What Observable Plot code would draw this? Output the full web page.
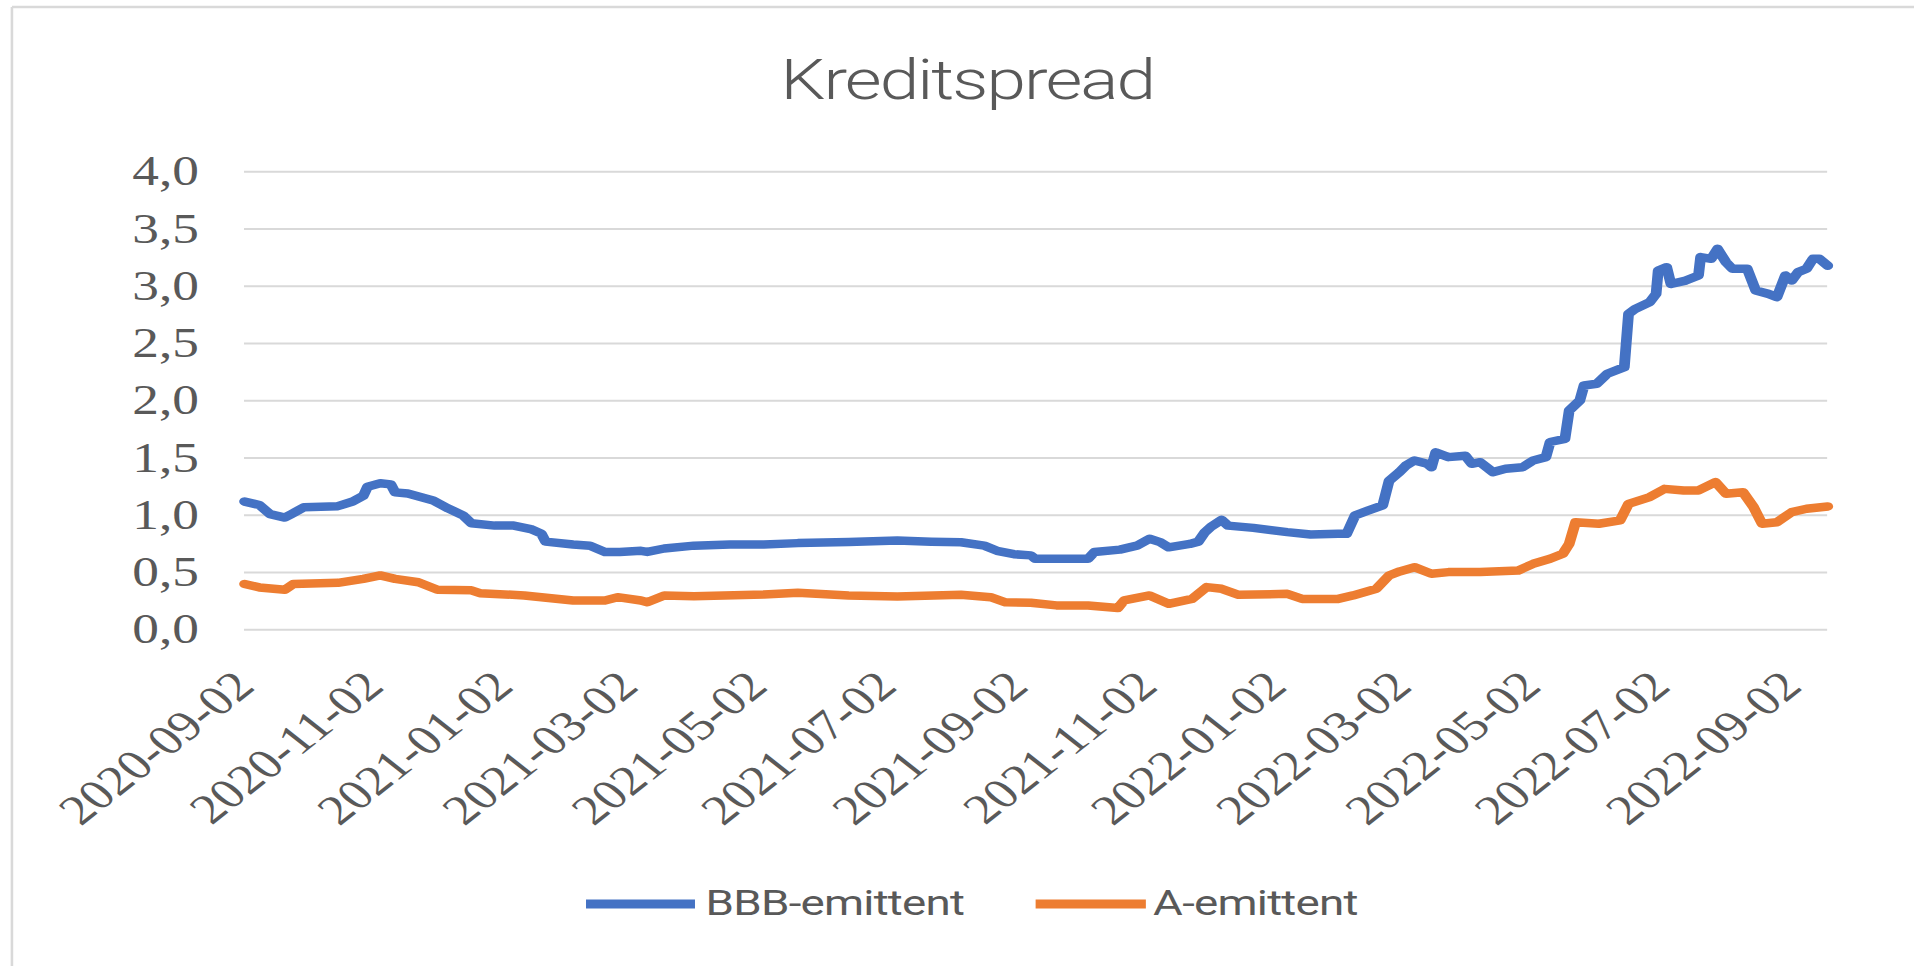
<!DOCTYPE html>
<html>
<head>
<meta charset="utf-8">
<script src="https://cdn.jsdelivr.net/npm/d3@7"></script>
<script src="https://cdn.jsdelivr.net/npm/@observablehq/plot@0.6"></script>
<style>
  html, body { margin: 0; padding: 0; background: #ffffff; overflow: hidden; }
  #stage { position: absolute; left: 0; top: 0; width: 1507px; height: 966px; transform-origin: 0 0; }
  #stage > svg { position: absolute; left: 0; top: 0; }
</style>
</head>
<body>
<div id="stage"></div>
<script>
// ---- data ----
const chartTitle = "Kreditspread";
const seriesNames = ["BBB-emittent", "A-emittent"];
const seriesColors = ["#4472C4", "#ED7D31"];

const bbbDates = [
  "2020-09-02","2020-09-09","2020-09-14","2020-09-21","2020-09-24","2020-09-30","2020-10-16","2020-10-23",
  "2020-10-28","2020-10-30","2020-11-05","2020-11-10","2020-11-12","2020-11-18","2020-11-24","2020-11-30",
  "2020-12-07","2020-12-14","2020-12-18","2020-12-29","2021-01-07","2021-01-15","2021-01-20","2021-01-22",
  "2021-02-04","2021-02-12","2021-02-19","2021-02-26","2021-03-08","2021-03-11","2021-03-19","2021-04-02",
  "2021-04-19","2021-05-05","2021-05-21","2021-06-14","2021-07-07","2021-07-23","2021-08-06","2021-08-17",
  "2021-08-23","2021-08-31","2021-09-08","2021-09-10","2021-09-20","2021-10-05","2021-10-08","2021-10-20",
  "2021-10-28","2021-11-03","2021-11-08","2021-11-12","2021-11-22","2021-11-26","2021-11-29","2021-12-02",
  "2021-12-07","2021-12-10","2021-12-22","2022-01-07","2022-01-18","2022-01-31","2022-02-04","2022-02-08",
  "2022-02-14","2022-02-21","2022-02-24","2022-03-01","2022-03-04","2022-03-08","2022-03-14","2022-03-16",
  "2022-03-18","2022-03-24","2022-04-01","2022-04-04","2022-04-08","2022-04-14","2022-04-20","2022-04-28",
  "2022-05-03","2022-05-09","2022-05-11","2022-05-18","2022-05-20","2022-05-25","2022-05-27","2022-06-02",
  "2022-06-07","2022-06-15","2022-06-17","2022-06-20","2022-06-27","2022-06-30","2022-07-01","2022-07-05",
  "2022-07-07","2022-07-14","2022-07-20","2022-07-21","2022-07-26","2022-07-29","2022-08-02","2022-08-05",
  "2022-08-12","2022-08-16","2022-08-22","2022-08-26","2022-08-30","2022-09-02","2022-09-05","2022-09-09",
  "2022-09-12","2022-09-15","2022-09-19"
];
const bbbValues = [
  1.12,1.09,1.01,0.98,1.01,1.07,1.08,1.12,
  1.17,1.25,1.28,1.27,1.20,1.19,1.16,1.13,
  1.06,1.00,0.93,0.91,0.91,0.88,0.84,0.77,
  0.745,0.735,0.68,0.68,0.69,0.68,0.71,0.735,
  0.745,0.745,0.757,0.766,0.78,0.77,0.765,0.735,
  0.69,0.66,0.65,0.62,0.62,0.62,0.68,0.70,
  0.735,0.795,0.766,0.72,0.75,0.77,0.85,0.90,
  0.96,0.91,0.89,0.853,0.833,0.838,0.838,1.00,
  1.04,1.086,1.30,1.38,1.435,1.479,1.45,1.42,
  1.55,1.508,1.52,1.45,1.464,1.377,1.406,1.42,
  1.479,1.508,1.64,1.668,1.915,2.003,2.134,2.149,
  2.236,2.294,2.76,2.80,2.862,2.934,3.138,3.167,
  3.02,3.05,3.095,3.255,3.24,3.327,3.21,3.153,
  3.153,2.964,2.934,2.905,3.095,3.05,3.124,3.153,
  3.24,3.24,3.18
];

const aDates = [
  "2020-09-02","2020-09-09","2020-09-21","2020-09-25","2020-10-16","2020-10-28","2020-11-05","2020-11-12",
  "2020-11-23","2020-12-02","2020-12-18","2020-12-22","2021-01-12","2021-02-04","2021-02-19","2021-02-25",
  "2021-03-08","2021-03-11","2021-03-19","2021-04-02","2021-05-05","2021-05-21","2021-06-14","2021-07-07",
  "2021-08-06","2021-08-20","2021-08-27","2021-09-08","2021-09-20","2021-10-05","2021-10-19","2021-10-22",
  "2021-11-03","2021-11-12","2021-11-23","2021-11-30","2021-12-07","2021-12-15","2022-01-07","2022-01-14",
  "2022-01-31","2022-02-07","2022-02-18","2022-02-24","2022-03-01","2022-03-08","2022-03-16","2022-03-24",
  "2022-04-08","2022-04-26","2022-05-03","2022-05-11","2022-05-17","2022-05-20","2022-05-23","2022-06-03",
  "2022-06-13","2022-06-17","2022-06-27","2022-07-04","2022-07-13","2022-07-20","2022-07-28","2022-08-02",
  "2022-08-10","2022-08-15","2022-08-19","2022-08-26","2022-09-02","2022-09-09","2022-09-19"
];
const aValues = [
  0.40,0.37,0.35,0.40,0.41,0.445,0.475,0.445,
  0.415,0.35,0.345,0.32,0.30,0.256,0.256,0.285,
  0.256,0.24,0.30,0.294,0.308,0.323,0.30,0.29,
  0.306,0.285,0.24,0.236,0.213,0.213,0.19,0.256,
  0.30,0.227,0.27,0.373,0.358,0.306,0.314,0.27,
  0.27,0.30,0.358,0.474,0.51,0.547,0.489,0.504,
  0.504,0.518,0.576,0.62,0.664,0.751,0.94,0.926,
  0.955,1.10,1.159,1.231,1.217,1.217,1.29,1.188,
  1.202,1.071,0.926,0.94,1.028,1.057,1.077
];

const xTickLabels = [
  "2020-09-02","2020-11-02","2021-01-02","2021-03-02","2021-05-02","2021-07-02","2021-09-02",
  "2021-11-02","2022-01-02","2022-03-02","2022-05-02","2022-07-02","2022-09-02"
];
const yTicks = [0, 0.5, 1, 1.5, 2, 2.5, 3, 3.5, 4];
const xDomain = ["2020-09-02", "2022-09-19"];
const yDomain = [0, 4];

// ---- build ----
const parse = d3.utcParse("%Y-%m-%d");
const fmtDate = d3.utcFormat("%Y-%m-%d");
const bbb = bbbDates.map((d, i) => ({date: parse(d), value: bbbValues[i]}));
const aa = aDates.map((d, i) => ({date: parse(d), value: aValues[i]}));

const W = 1507, H = 966, SX = 1914 / W;
const stage = document.getElementById("stage");
stage.style.transform = `scaleX(${SX})`;

const chart = Plot.plot({
  width: W,
  height: H,
  marginLeft: 192.1,
  marginRight: 68.4,
  marginTop: 171.3,
  marginBottom: 336.7,
  style: {fontFamily: "'Liberation Serif', 'DejaVu Serif', serif", fontSize: "42px", color: "#595959", background: "transparent", overflow: "visible"},
  x: {
    type: "utc",
    domain: xDomain.map(parse),
    ticks: xTickLabels.map(parse),
    tickFormat: fmtDate,
    tickRotate: -45,
    tickSize: 0,
    tickPadding: 49,
    label: null
  },
  y: {
    domain: yDomain,
    ticks: yTicks,
    tickFormat: d => d.toFixed(1).replace(".", ","),
    tickSize: 0,
    tickPadding: 36,
    label: null
  },
  marks: [
    Plot.ruleY(yTicks, {stroke: "#d9d9d9", strokeWidth: 2}),
    Plot.lineY(bbb, {x: "date", y: "value", stroke: seriesColors[0], strokeWidth: 8.5, strokeLinejoin: "round", strokeLinecap: "round"}),
    Plot.lineY(aa, {x: "date", y: "value", stroke: seriesColors[1], strokeWidth: 8.5, strokeLinejoin: "round", strokeLinecap: "round"})
  ]
});
stage.appendChild(chart);

// ---- title, legend, chart border (layout only) ----
const ov = d3.select(stage).append("svg")
  .attr("width", W).attr("height", H)
  .style("pointer-events", "none");

ov.append("line").attr("x1", 9.4).attr("x2", 9.4).attr("y1", 7).attr("y2", H)
  .attr("stroke", "#d9d9d9").attr("stroke-width", 2);
ov.append("line").attr("x1", 9.4).attr("x2", W).attr("y1", 7).attr("y2", 7)
  .attr("stroke", "#d9d9d9").attr("stroke-width", 2.5);

ov.append("text")
  .attr("x", 761.6).attr("y", 98.6)
  .attr("text-anchor", "middle")
  .attr("font-family", "Roboto, 'Open Sans', sans-serif")
  .attr("font-weight", 300)
  .attr("font-size", 56)
  .attr("letter-spacing", "-1.5px")
  .attr("fill", "#595959")
  .text(chartTitle);

const legendItems = [
  {x: 461.4, w: 85.8, tx: 555.5},
  {x: 815.4, w: 86.8, tx: 907.9}
];
legendItems.forEach((it, i) => {
  ov.append("rect").attr("x", it.x).attr("y", 899.5).attr("width", it.w).attr("height", 9)
    .attr("fill", seriesColors[i]);
  ov.append("text")
    .attr("x", it.tx).attr("y", 915)
    .attr("font-family", "Roboto, 'Open Sans', sans-serif")
    .attr("font-size", 36)
    .attr("letter-spacing", "-0.6px")
    .attr("fill", "#595959")
    .text(seriesNames[i]);
});
</script>
</body>
</html>
